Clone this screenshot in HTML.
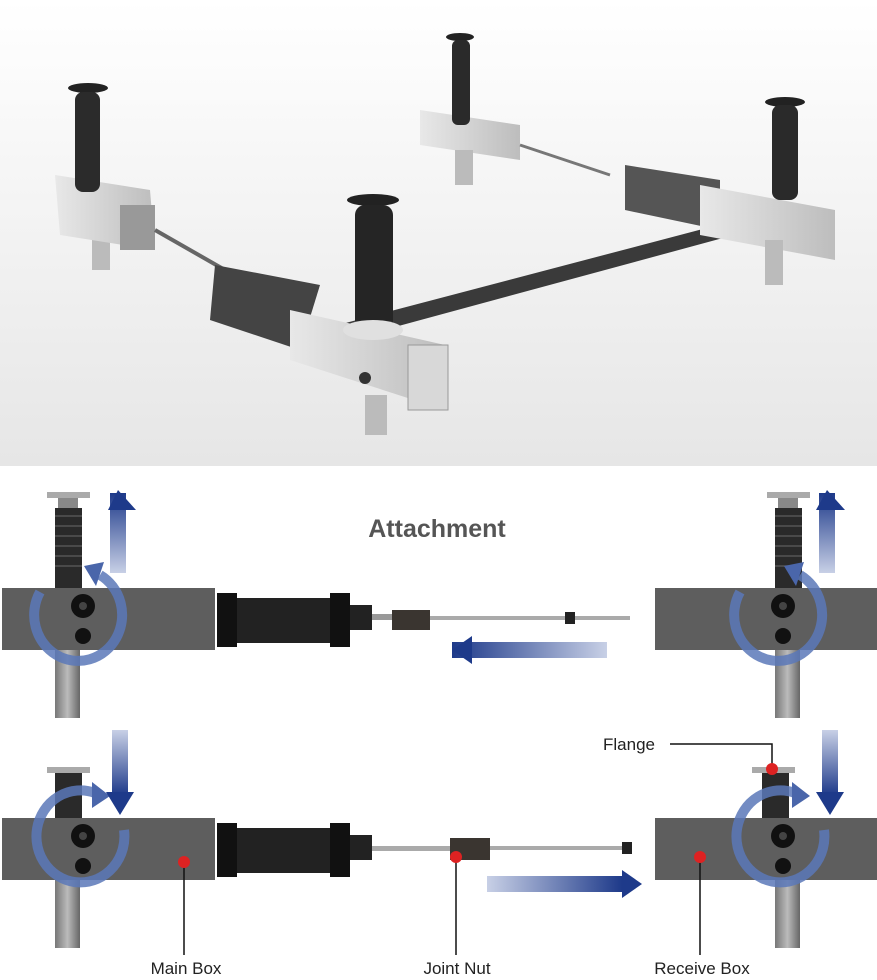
<!DOCTYPE html><html><head><style>body{margin:0;background:#fff}svg{display:block}</style></head><body>
<svg width="877" height="980" xmlns="http://www.w3.org/2000/svg" font-family="Liberation Sans, sans-serif">
<defs>
<linearGradient id="bg" x1="0" y1="0" x2="0" y2="1"><stop offset="0" stop-color="#fff"/><stop offset="1" stop-color="#e6e6e6"/></linearGradient>
<linearGradient id="arU" x1="0" y1="1" x2="0" y2="0"><stop offset="0" stop-color="#c8d0e6"/><stop offset="1" stop-color="#1e3a8a"/></linearGradient>
<linearGradient id="arD" x1="0" y1="0" x2="0" y2="1"><stop offset="0" stop-color="#c8d0e6"/><stop offset="1" stop-color="#1e3a8a"/></linearGradient>
<linearGradient id="arL" x1="1" y1="0" x2="0" y2="0"><stop offset="0" stop-color="#c8d0e6"/><stop offset="1" stop-color="#1e3a8a"/></linearGradient>
<linearGradient id="arR" x1="0" y1="0" x2="1" y2="0"><stop offset="0" stop-color="#c8d0e6"/><stop offset="1" stop-color="#1e3a8a"/></linearGradient>
<linearGradient id="post" x1="0" x2="1"><stop offset="0" stop-color="#777"/><stop offset=".5" stop-color="#bbb"/><stop offset="1" stop-color="#666"/></linearGradient>
<linearGradient id="box3" x1="0" x2="1"><stop offset="0" stop-color="#e8e8e8"/><stop offset="1" stop-color="#bdbdbd"/></linearGradient>
<g id="jack">
 <rect x="55" y="648" width="25" height="70" fill="url(#post)"/>
 <rect x="47" y="492" width="43" height="6" fill="#aaa"/>
 <rect x="58" y="498" width="20" height="10" fill="#888"/>
 <rect x="55" y="508" width="27" height="80" fill="#2a2a2a"/>
 <g stroke="#555" stroke-width="1.5"><line x1="55" y1="516" x2="82" y2="516"/><line x1="55" y1="526" x2="82" y2="526"/><line x1="55" y1="536" x2="82" y2="536"/><line x1="55" y1="546" x2="82" y2="546"/><line x1="55" y1="556" x2="82" y2="556"/><line x1="55" y1="566" x2="82" y2="566"/></g>
</g>
<g id="holes">
 <circle cx="83" cy="606" r="12" fill="#111"/><circle cx="83" cy="606" r="4" fill="#444"/>
 <circle cx="83" cy="636" r="8" fill="#111"/>
</g>
<g id="circ1">
 <use href="#holes"/>
 <path d="M40 592 A44 46 0 1 0 100 575" fill="none" stroke="#5b78b8" stroke-width="10" opacity=".85"/>
 <polygon points="84,566 104,562 96,586" fill="#4a66aa"/>
</g>
<g id="circ2">
 <use href="#holes"/>
 <path d="M124 600 A44 46 0 1 1 95 563" fill="none" stroke="#5b78b8" stroke-width="10" opacity=".85"/>
 <polygon points="92,552 110,566 92,578" fill="#4a66aa"/>
</g>
</defs>
<rect width="877" height="466" fill="url(#bg)"/>
<g>
 <polygon points="300,335 775,210 782,222 310,350" fill="#3a3a3a"/>
 <rect x="92" y="230" width="18" height="40" fill="#bbb"/>
 <polygon points="55,175 150,190 155,250 60,235" fill="url(#box3)"/>
 <rect x="120" y="205" width="35" height="45" fill="#999"/>
 <ellipse cx="88" cy="88" rx="20" ry="5" fill="#222"/>
 <rect x="75" y="92" width="25" height="100" rx="8" fill="#2b2b2b"/>
 <line x1="155" y1="230" x2="225" y2="270" stroke="#666" stroke-width="4"/>
 <polygon points="215,265 320,285 300,350 210,320" fill="#444"/>
 <polygon points="290,310 445,345 445,410 290,360" fill="url(#box3)"/>
 <rect x="408" y="345" width="40" height="65" fill="#d8d8d8" stroke="#999"/>
 <circle cx="365" cy="378" r="6" fill="#333"/>
 <rect x="365" y="395" width="22" height="40" fill="#bbb"/>
 <ellipse cx="373" cy="200" rx="26" ry="6" fill="#222"/>
 <rect x="355" y="205" width="38" height="130" rx="10" fill="#252525"/>
 <ellipse cx="373" cy="330" rx="30" ry="10" fill="#e0e0e0"/>
 <polygon points="420,110 520,125 520,160 420,145" fill="url(#box3)"/>
 <rect x="455" y="150" width="18" height="35" fill="#bbb"/>
 <ellipse cx="460" cy="37" rx="14" ry="4" fill="#222"/>
 <rect x="452" y="40" width="18" height="85" rx="6" fill="#2a2a2a"/>
 <line x1="520" y1="145" x2="610" y2="175" stroke="#777" stroke-width="3"/>
 <polygon points="625,165 720,180 720,230 625,210" fill="#555"/>
 <polygon points="700,185 835,210 835,260 700,235" fill="url(#box3)"/>
 <rect x="765" y="240" width="18" height="45" fill="#bbb"/>
 <ellipse cx="785" cy="102" rx="20" ry="5" fill="#222"/>
 <rect x="772" y="105" width="26" height="95" rx="8" fill="#2a2a2a"/>
</g>
<text x="437" y="537" font-size="25" font-weight="bold" fill="#555" text-anchor="middle">Attachment</text>
<!-- Row 1 -->
<g>
 <use href="#jack"/>
 <rect x="2" y="588" width="213" height="62" fill="#5e5e5e"/>
 <use href="#circ1"/>
 <rect x="110" y="493" width="16" height="80" fill="url(#arU)"/><polygon points="108,510 118,490 136,510" fill="#1e3a8a"/>
 <rect x="217" y="593" width="20" height="54" fill="#111"/><rect x="237" y="598" width="93" height="45" fill="#222"/>
 <rect x="330" y="593" width="20" height="54" fill="#111"/><rect x="350" y="605" width="22" height="25" fill="#222"/>
 <rect x="372" y="614" width="20" height="6" fill="#999"/><rect x="392" y="610" width="38" height="20" fill="#3a3530"/>
 <rect x="430" y="616" width="200" height="4" fill="#aaa"/><rect x="565" y="612" width="10" height="12" fill="#222"/>
 <rect x="452" y="642" width="155" height="16" fill="url(#arL)"/><polygon points="472,636 452,650 472,664" fill="#1e3a8a"/>
 <g transform="translate(720,0)"><use href="#jack"/></g>
 <rect x="655" y="588" width="222" height="62" fill="#5e5e5e"/>
 <g transform="translate(700,0)"><use href="#circ1"/></g>
 <rect x="819" y="493" width="16" height="80" fill="url(#arU)"/><polygon points="816,510 827,490 845,510" fill="#1e3a8a"/>
</g>
<!-- Row 2 -->
<g transform="translate(0,230)">
 <rect x="55" y="648" width="25" height="70" fill="url(#post)"/>
 <rect x="47" y="537" width="43" height="6" fill="#aaa"/><rect x="55" y="543" width="27" height="45" fill="#2a2a2a"/>
 <rect x="2" y="588" width="213" height="62" fill="#5e5e5e"/>
 <use href="#circ2"/>
 <rect x="112" y="500" width="16" height="65" fill="url(#arD)"/><polygon points="106,562 120,585 134,562" fill="#1e3a8a"/>
 <rect x="217" y="593" width="20" height="54" fill="#111"/><rect x="237" y="598" width="93" height="45" fill="#222"/>
 <rect x="330" y="593" width="20" height="54" fill="#111"/><rect x="350" y="605" width="22" height="25" fill="#222"/>
 <rect x="372" y="616" width="80" height="5" fill="#aaa"/><rect x="450" y="608" width="40" height="22" fill="#3a3530"/>
 <rect x="490" y="616" width="140" height="4" fill="#aaa"/><rect x="622" y="612" width="10" height="12" fill="#222"/>
 <rect x="487" y="646" width="135" height="16" fill="url(#arR)"/><polygon points="622,640 642,654 622,668" fill="#1e3a8a"/>
 <rect x="775" y="648" width="25" height="70" fill="url(#post)"/>
 <rect x="752" y="537" width="43" height="6" fill="#aaa"/><rect x="762" y="543" width="27" height="45" fill="#2a2a2a"/>
 <rect x="655" y="588" width="222" height="62" fill="#5e5e5e"/>
 <g transform="translate(700,0)"><use href="#circ2"/></g>
 <rect x="822" y="500" width="16" height="65" fill="url(#arD)"/><polygon points="816,562 830,585 844,562" fill="#1e3a8a"/>
</g>
<g stroke="#111" stroke-width="1.5" fill="none">
 <polyline points="670,744 772,744 772,768"/>
 <line x1="184" y1="862" x2="184" y2="955"/><line x1="456" y1="857" x2="456" y2="955"/><line x1="700" y1="857" x2="700" y2="955"/>
</g>
<g fill="#d22"><circle cx="772" cy="769" r="6"/><circle cx="184" cy="862" r="6"/><circle cx="456" cy="857" r="6"/><circle cx="700" cy="857" r="6"/></g>
<g font-size="17" fill="#222">
 <text x="603" y="750">Flange</text>
 <text x="186" y="974" text-anchor="middle">Main Box</text>
 <text x="457" y="974" text-anchor="middle">Joint Nut</text>
 <text x="702" y="974" text-anchor="middle">Receive Box</text>
</g>
</svg>
</body></html>
